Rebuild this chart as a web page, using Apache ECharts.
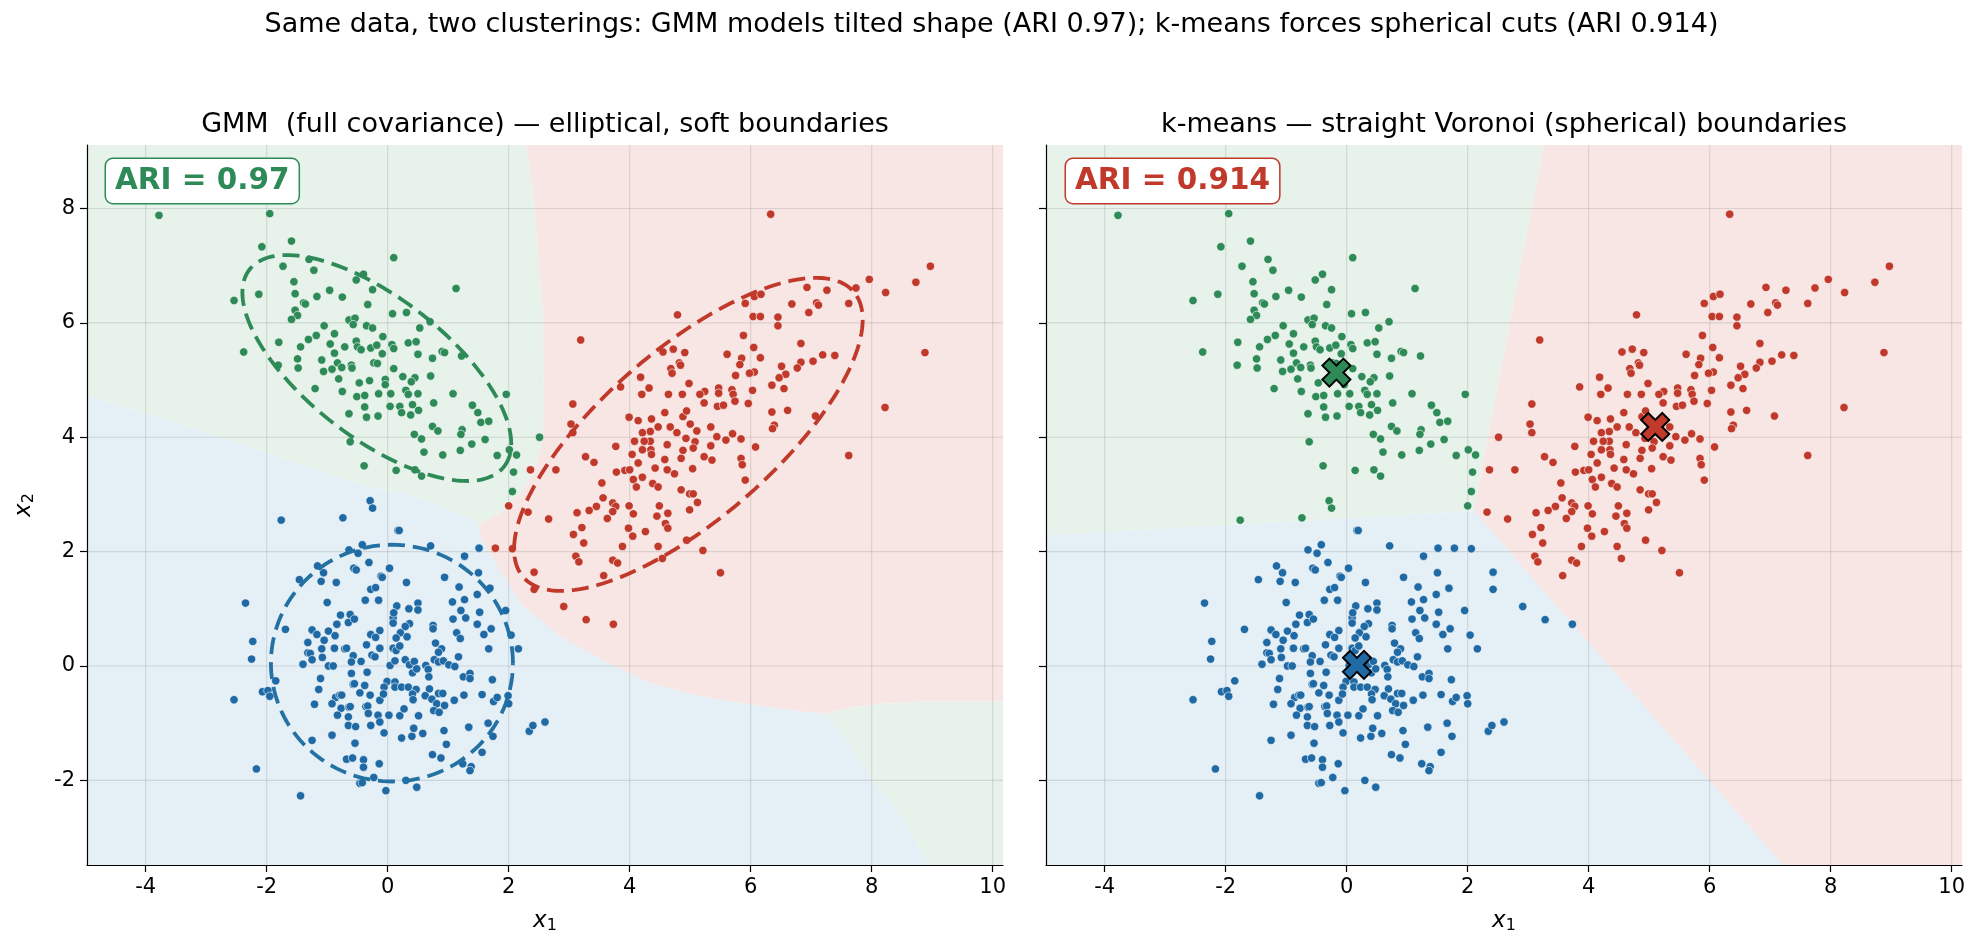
<!DOCTYPE html>
<html>
<head>
<meta charset="utf-8">
<title>GMM vs k-means</title>
<script src="https://cdn.jsdelivr.net/npm/echarts@6/dist/echarts.min.js"></script>
<style>
html, body { margin: 0; padding: 0; background: #fff; }
#chart { width: 1983px; height: 951px; }
</style>
</head>
<body>
<div id="chart"></div>
<script>
// axis ranges and ticks (same for both panels)
const xRange = [-4.97, 10.17];
const yRange = [-3.48, 9.11];
const xTicks = [-4, -2, 0, 2, 4, 6, 8, 10];
const yTicks = [-2, 0, 2, 4, 6, 8];

// points, grouped by the GMM label
const greenPts = [
  [-3.78,7.88],[-1.95,7.91],[-1.59,7.43],[-2.08,7.33],[-1.73,6.99],[-1.30,7.11],[-1.22,6.92],[-0.52,6.75],[-0.40,6.85],[-0.25,6.58],
  [-1.55,6.72],[-1.53,6.51],[-2.13,6.50],[-2.54,6.39],[-1.17,6.46],[-0.96,6.57],[-0.75,6.45],[-1.39,6.35],[-1.36,6.33],[-1.53,6.22],
  [-1.49,6.13],[-1.59,6.06],[-0.33,6.32],[-0.64,6.05],[-0.54,6.08],[-0.57,5.97],[-0.35,5.95],[-0.25,5.91],[-1.05,5.95],[-0.88,5.81],
  [-1.18,5.78],[-1.31,5.71],[-1.80,5.66],[-1.44,5.58],[-2.38,5.49],[-0.95,5.63],[-0.71,5.58],[-0.52,5.68],[-0.50,5.58],[-0.44,5.53],
  [-0.28,5.56],[-0.88,5.47],[-1.09,5.35],[-1.49,5.37],[-1.48,5.21],[-1.81,5.26],[-0.83,5.30],[-0.76,5.22],[-0.60,5.26],[-0.59,5.21],
  [-1.06,5.15],[-0.92,5.19],[-0.81,5.02],[-0.47,4.95],[-0.30,4.99],[-0.23,5.30],[-1.20,4.85],[-0.75,4.80],[-0.51,4.71],[-0.38,4.73],
  [0.10,7.14],[1.13,6.60],[0.08,6.16],[0.31,6.18],[0.70,6.02],[0.53,5.91],[-0.08,5.76],[-0.18,5.61],[0.07,5.62],[0.10,5.55],
  [0.34,5.65],[0.47,5.67],[-0.09,5.46],[0.50,5.45],[0.90,5.50],[0.94,5.48],[0.74,5.38],[1.22,5.42],[-0.17,5.29],[0.10,5.20],
  [0.25,5.06],[0.45,5.04],[0.39,4.97],[0.71,5.07],[-0.04,5.01],[-0.04,4.92],[0.30,4.82],[0.05,4.76],[0.34,4.75],[0.50,4.76],
  [-0.15,4.76],[1.08,4.76],[1.96,4.75],
  [-0.38,4.53],[-0.64,4.41],[-0.35,4.35],[-0.62,3.92],[-0.39,3.50],[0.04,4.54],[0.20,4.54],[0.41,4.57],[0.51,4.47],[0.38,4.39],
  [0.23,4.43],[-0.16,4.37],[0.76,4.60],[1.40,4.56],[1.49,4.43],[1.54,4.26],[1.67,4.28],[0.74,4.19],[0.83,4.11],[1.23,4.13],
  [1.21,4.05],[0.44,4.05],[0.56,3.97],[1.61,3.96],[1.39,3.88],[0.60,3.74],[0.91,3.69],[1.20,3.77],[1.81,3.68],[2.01,3.78],
  [2.13,3.69],[2.51,4.00],[0.14,3.42],[0.45,3.43],[0.56,3.32],[2.08,3.39],[2.06,3.05]
];

const redPts = [
  [3.19,5.70],[4.18,5.05],[3.85,4.88],[4.32,4.86],[4.20,4.75],
  [6.33,7.90],[7.96,6.76],[8.73,6.71],[8.23,6.53],[7.74,6.61],[7.62,6.34],[6.93,6.62],[7.26,6.57],[7.09,6.35],[7.12,6.31],
  [6.96,6.18],[6.68,6.33],[5.91,6.34],[6.06,6.46],[6.17,6.50],[6.04,6.11],[6.16,6.11],[6.45,6.10],[6.45,5.95],[4.79,6.14],
  [5.88,5.78],[6.05,5.57],[6.83,5.64],[4.55,5.49],[4.72,5.54],[4.91,5.48],[5.61,5.45],[5.85,5.38],[6.16,5.39],[5.82,5.27],
  [4.82,5.30],[4.84,5.26],[4.68,5.20],[4.70,5.12],[7.19,5.44],[7.39,5.43],[7.03,5.33],[6.83,5.31],[6.77,5.21],[6.51,5.24],
  [6.58,5.10],[6.47,5.04],[6.06,5.14],[5.98,5.12],[5.75,5.08],[4.98,4.94],[6.35,4.91],[6.55,4.85],[5.24,4.80],[5.47,4.86],
  [5.47,4.77],[5.69,4.83],[6.03,4.82],[4.64,4.75],[4.87,4.75],[5.16,4.75],[5.71,4.75],[8.88,5.48],[8.97,6.99],
  [5.23,4.60],[5.45,4.54],[5.55,4.56],[5.74,4.63],[5.96,4.59],[6.35,4.44],[6.61,4.47],[6.39,4.21],[6.36,4.15],[7.07,4.37],
  [8.22,4.52],[7.62,3.68],[6.08,3.83],[5.84,3.97],[5.84,3.63],[5.86,3.52],[5.91,3.25],[5.59,3.95],[5.44,4.01],[5.70,4.06],
  [5.34,4.18],[5.34,3.85],[5.23,3.66],[5.36,3.60],[5.11,4.11],[5.00,4.23],[4.88,4.36],[4.94,4.46],[4.58,4.43],[4.36,4.32],
  [4.47,4.18],[4.67,4.18],[4.78,4.08],[4.93,3.98],[5.08,3.92],[5.05,3.81],[4.34,4.10],[4.34,3.93],[4.62,3.87],[4.35,3.78],
  [4.36,3.70],[4.88,3.77],[4.85,3.63],[4.58,3.61],[4.42,3.46],[4.62,3.43],[4.74,3.36],[5.04,3.45],[4.38,3.19],[4.47,3.13],
  [4.85,3.08],[4.99,3.01],[5.05,3.01],[5.12,2.86],[4.99,2.73],[4.49,2.80],[4.63,2.67],[4.45,2.62],[4.59,2.49],[4.63,2.41],
  [4.47,2.09],[4.94,2.20],[4.54,1.88],[5.21,2.02],[5.50,1.63],
  [3.06,4.58],[3.03,4.23],[3.06,4.08],[3.99,4.35],[4.14,4.29],[4.21,4.08],[4.08,3.93],[4.24,3.93],[4.21,3.78],[4.04,3.70],
  [4.14,3.55],[3.77,3.84],[3.27,3.66],[3.41,3.56],[2.36,3.43],[2.78,3.43],[3.78,3.39],[3.92,3.42],[4.00,3.43],[4.21,3.30],
  [4.06,3.26],[4.11,3.13],[3.54,3.20],[3.56,2.94],[3.45,2.79],[3.33,2.72],[3.13,2.68],[3.72,2.85],[3.77,2.79],[3.72,2.70],
  [3.63,2.58],[3.99,2.80],[4.06,2.66],[2.00,2.80],[2.32,2.69],[2.66,2.57],[3.21,2.42],[3.07,2.30],[3.24,2.15],[3.98,2.41],
  [4.05,2.27],[4.26,2.35],[3.88,2.09],[1.78,2.06],[2.06,2.05],[3.11,1.92],[3.16,1.82],[3.72,1.85],[3.80,1.80],[2.42,1.64],
  [3.57,1.58],[2.42,1.34],[2.91,1.04],[3.28,0.81],[3.73,0.73]
];

const bluePts = [
  [-0.29,2.89],[-0.25,2.76],[-1.76,2.55],[-0.74,2.59],[-0.42,2.12],[-0.64,2.03],[-0.49,1.97],[-0.31,1.81],[-1.16,1.75],[-1.06,1.63],
  [-1.10,1.48],[-0.85,1.46],[-0.56,1.71],[-0.52,1.68],[-1.46,1.51],[-0.28,1.34],[-0.37,1.15],[-1.00,1.11],[-2.35,1.10],
  [0.17,2.37],[0.19,2.37],[0.71,2.10],[1.51,2.06],[1.27,1.92],[0.03,1.71],[-0.11,1.57],[-0.09,1.55],[0.31,1.46],[0.94,1.55],
  [1.18,1.38],[1.50,1.63],[1.69,1.36],[1.48,1.25],[1.27,1.16],[1.07,1.12],[0.50,1.10],[0.15,1.05],[-0.20,1.37],[-0.15,1.15],
  [-1.69,0.64],[-2.23,0.43],[-2.25,0.12],[-2.54,-0.59],[-2.07,-0.45],[-1.98,-0.43],[-1.95,-0.53],[-1.85,-0.26],[-2.17,-1.80],[-1.44,-2.27],
  [-1.25,-1.30],[-0.92,-1.21],[-0.54,-1.35],[-0.68,-1.63],[-0.58,-1.61],[-0.40,-1.64],[-0.40,-1.77],[-0.46,-2.05],[-0.42,-2.04],[-1.25,0.63],
  [-1.17,0.55],[-0.98,0.61],[-1.05,0.45],[-0.87,0.53],[-0.84,0.73],[-0.78,0.89],[-0.62,0.90],[-0.65,0.76],[-0.55,0.82],[-1.32,0.41],
  [-1.09,0.30],[-0.88,0.31],[-0.71,0.30],[-0.68,0.31],[-0.35,0.37],[-0.28,0.55],[-1.32,0.23],[-1.28,0.22],[-1.25,0.11],[-1.08,0.15],
  [-1.40,0.03],[-0.57,0.18],[-0.60,0.07],[-0.44,0.08],[-0.98,0.00],[-0.90,0.00],[-0.26,0.19],[-0.60,-0.13],[-0.34,-0.11],[-1.11,-0.22],
  [-1.14,-0.41],[-0.57,-0.32],[-0.55,-0.31],[-0.38,-0.34],[-0.46,-0.47],[-0.29,-0.51],[-0.86,-0.55],[-0.79,-0.51],[-0.76,-0.51],[-1.21,-0.67],
  [-0.92,-0.66],[-0.77,-0.74],[-0.64,-0.72],[-0.62,-0.71],[-0.36,-0.71],[-0.33,-0.70],[-0.83,-0.86],[-0.65,-0.89],[-0.32,-0.83],[-0.65,-1.04],
  [-0.53,-1.06],[-0.28,-1.04],
  [1.95,0.97],[2.04,0.54],[2.16,0.30],[1.52,0.94],[1.21,0.97],[1.29,0.84],[1.08,0.82],[1.48,0.73],[1.71,0.65],[1.59,0.55],
  [1.14,0.58],[1.20,0.48],[1.67,0.30],[0.75,0.71],[0.75,0.65],[0.35,1.00],[0.50,0.98],[0.36,0.74],[0.29,0.69],[0.21,0.58],
  [0.32,0.51],[0.14,0.49],[0.09,0.84],[0.10,0.93],[0.09,0.75],[-0.13,0.62],[-0.20,0.50],[-0.13,0.31],[0.09,0.31],[0.14,0.27],
  [0.20,0.35],[0.79,0.40],[0.89,0.30],[0.84,0.24],[1.17,0.16],[0.77,0.11],[0.84,0.07],[0.92,0.09],[1.01,0.02],[1.11,-0.01],
  [0.29,0.11],[0.36,0.02],[0.44,0.08],[0.41,-0.12],[0.48,-0.05],[0.63,0.01],[0.67,-0.06],[0.04,0.01],[0.12,0.09],[-0.21,0.16],
  [0.68,-0.19],[1.25,-0.19],[1.36,-0.13],[1.36,-0.22],[1.73,-0.24],[-0.01,-0.27],[0.12,-0.28],[-0.06,-0.37],[0.12,-0.37],[0.23,-0.37],
  [0.34,-0.37],[0.47,-0.41],[0.69,-0.40],[0.41,-0.49],[0.42,-0.59],[0.62,-0.52],[0.73,-0.58],[0.84,-0.48],[0.91,-0.48],[0.81,-0.66],
  [0.94,-0.69],[1.26,-0.51],[1.10,-0.60],[1.56,-0.50],[1.75,-0.62],[1.81,-0.55],[1.99,-0.52],[2.00,-0.66],[2.34,-1.14],[2.40,-1.04],
  [2.60,-0.98],[-0.13,-0.60],[-0.07,-0.49],[-0.16,-0.86],[-0.13,-0.98],[0.02,-0.86],[0.20,-0.87],[0.27,-0.75],[0.51,-0.87],[0.76,-0.78],
  [0.85,-0.81],[-0.06,-1.17],[0.23,-1.26],[0.40,-1.23],[0.43,-1.09],[0.58,-1.18],[0.93,-1.13],[1.34,-1.07],[1.66,-1.00],[1.74,-1.23],
  [0.97,-1.37],[0.74,-1.55],[0.88,-1.61],[1.56,-1.51],[1.24,-1.71],[1.38,-1.76],[1.36,-1.83],[-0.14,-1.71],[0.48,-2.12],[-0.03,-2.18],
  [-0.23,-1.95],[0.30,-2.00]
];

// GMM 2-sigma ellipses: [cx, cy, semi-major, semi-minor, angle deg]
const ellGreen = [-0.18, 5.21, 2.72, 1.2, -40];
const ellRed = [4.97, 4.05, 3.7, 1.45, 43];
const ellBlue = [0.07, 0.05, 2.0, 2.07, 0];

// k-means centroids
const cenGreen = [-0.17, 5.13];
const cenRed = [5.10, 4.18];
const cenBlue = [0.17, 0.02];

// GMM decision boundaries
const bGreenRed = [[2.29,9.11],[2.41,8.25],[2.46,7.55],[2.52,6.73],[2.57,6.18],[2.58,4.66],[2.57,4.08],[2.52,3.79],[2.43,3.43],[2.21,3.03],[1.94,2.73],[1.66,2.56],[1.50,2.47]];
const bGreenBlue = [[-4.97,4.73],[-2.74,4.0],[-2.0,3.73],[-0.9,3.32],[-0.21,3.11],[0.34,3.0],[0.89,2.79],[1.44,2.53],[1.50,2.47]];
const bRedBlue = [[1.50,2.47],[1.55,2.21],[1.72,1.92],[1.88,1.63],[2.10,1.28],[2.21,1.07],[2.88,0.49],[3.65,0.05],[4.34,-0.30],[5.16,-0.53],[5.99,-0.68],[6.81,-0.79],[7.20,-0.84]];
const bRedGreen2 = [[7.20,-0.84],[7.64,-0.73],[8.19,-0.66],[8.74,-0.62],[10.17,-0.62]];
const bBlueGreen2 = [[7.20,-0.84],[7.42,-1.08],[7.75,-1.55],[8.03,-2.02],[8.39,-2.48],[8.96,-3.48]];

// k-means Voronoi corners
const kmJoint = [2.1, 2.71];
const kmTop = [3.26, 9.11];
const kmLeft = [-4.97, 2.28];
const kmBottom = [7.21, -3.48];

const C = { green: '#2e8b57', red: '#c0392b', blue: '#1f6aa5' };
const BG = { green: '#e6f2ea', red: '#f8e6e4', blue: '#e4eff6' };
const FONT = '"DejaVu Sans", sans-serif';

const rev = a => a.slice().reverse();
const X0 = xRange[0], X1 = xRange[1], Y0 = yRange[0], Y1 = yRange[1];

const gmmRegions = [
  { color: BG.green, pts: [[X0, Y1]].concat(bGreenRed, rev(bGreenBlue)) },
  { color: BG.red, pts: [[X1, Y1], [X1, -0.62]].concat(rev(bRedGreen2), rev(bRedBlue), rev(bGreenRed)) },
  { color: BG.blue, pts: bGreenBlue.concat(bRedBlue, bBlueGreen2, [[X0, Y0]]) },
  { color: BG.green, pts: bRedGreen2.concat([[X1, Y0]], rev(bBlueGreen2)) }
];
const kmRegions = [
  { color: BG.green, pts: [[X0, Y1], kmTop, kmJoint, kmLeft] },
  { color: BG.red, pts: [kmTop, [X1, Y1], [X1, Y0], kmBottom, kmJoint] },
  { color: BG.blue, pts: [kmLeft, kmJoint, kmBottom, [X0, Y0]] }
];

// k-means labels: nearest centroid
const cents = { green: cenGreen, red: cenRed, blue: cenBlue };
const km = { green: [], red: [], blue: [] };
greenPts.concat(redPts, bluePts).forEach(p => {
  let best = null, bd = Infinity;
  for (const k in cents) {
    const d = (p[0] - cents[k][0]) ** 2 + (p[1] - cents[k][1]) ** 2;
    if (d < bd) { bd = d; best = k; }
  }
  km[best].push(p);
});

function regionSeries(regions, gi) {
  return {
    type: 'custom', xAxisIndex: gi, yAxisIndex: gi, silent: true, z: 0,
    data: regions.map((r, i) => [i, 0]),
    renderItem: (params, api) => {
      const r = regions[params.dataIndex];
      return { type: 'polygon', shape: { points: r.pts.map(p => api.coord(p)) }, style: { fill: r.color } };
    }
  };
}

function gridSeries(gi) {
  const lines = xTicks.map(v => [[v, Y0], [v, Y1]]).concat(yTicks.map(v => [[X0, v], [X1, v]]));
  return {
    type: 'custom', xAxisIndex: gi, yAxisIndex: gi, silent: true, z: 1,
    data: lines.map((l, i) => [i, 0]),
    renderItem: (params, api) => {
      const l = lines[params.dataIndex];
      const a = api.coord(l[0]), b = api.coord(l[1]);
      return { type: 'line', shape: { x1: a[0], y1: a[1], x2: b[0], y2: b[1] }, style: { stroke: 'rgba(110,110,110,0.2)', lineWidth: 1.1 } };
    }
  };
}

function ellipseSeries(ells) {
  return {
    type: 'custom', xAxisIndex: 0, yAxisIndex: 0, silent: true, z: 4,
    data: ells.map((e, i) => [i, 0]),
    renderItem: (params, api) => {
      const [cx, cy, a, b, ang] = ells[params.dataIndex].p;
      const th = ang * Math.PI / 180;
      const pts = [];
      for (let k = 0; k <= 160; k++) {
        const t = k / 160 * 2 * Math.PI;
        pts.push(api.coord([
          cx + a * Math.cos(t) * Math.cos(th) - b * Math.sin(t) * Math.sin(th),
          cy + a * Math.cos(t) * Math.sin(th) + b * Math.sin(t) * Math.cos(th)
        ]));
      }
      return { type: 'polyline', shape: { points: pts }, style: { stroke: ells[params.dataIndex].color, lineWidth: 3.8, lineDash: [17, 8], fill: null } };
    }
  };
}

function scatter(data, color, gi) {
  return {
    type: 'scatter', xAxisIndex: gi, yAxisIndex: gi, data, silent: true, z: 3,
    symbolSize: 8.4,
    itemStyle: { color, borderColor: '#fff', borderWidth: 0.6, opacity: 1 }
  };
}

const xMark = 'path://M1,0L2,1L3,0L4,1L3,2L4,3L3,4L2,3L1,4L0,3L1,2L0,1Z';
function centroid(p, color) {
  return {
    type: 'scatter', xAxisIndex: 1, yAxisIndex: 1, data: [p], silent: true, z: 5,
    symbol: xMark, symbolSize: 28,
    itemStyle: { color, borderColor: '#000', borderWidth: 2, opacity: 1 }
  };
}

function xAxis(gi) {
  return {
    type: 'value', gridIndex: gi, min: X0, max: X1,
    name: '{v|x}{s|1}', nameLocation: 'middle', nameGap: 44,
    nameTextStyle: { rich: { v: { fontFamily: FONT, fontStyle: 'italic', fontSize: 23, color: '#000' }, s: { fontFamily: FONT, fontSize: 16, color: '#000', padding: [9, 0, 0, 0] } } },
    axisLine: { show: true, onZero: false, lineStyle: { color: '#000', width: 1.2 } },
    axisTick: { show: true, length: 7, customValues: xTicks, lineStyle: { color: '#000', width: 1.2 } },
    axisLabel: { customValues: xTicks, fontFamily: FONT, fontSize: 21, color: '#000', margin: 12 },
    splitLine: { show: false }
  };
}
function yAxis(gi) {
  return {
    type: 'value', gridIndex: gi, min: Y0, max: Y1,
    name: gi === 0 ? '{v|x}{s|2}' : '', nameLocation: 'middle', nameGap: 50,
    nameTextStyle: { rich: { v: { fontFamily: FONT, fontStyle: 'italic', fontSize: 23, color: '#000' }, s: { fontFamily: FONT, fontSize: 16, color: '#000', padding: [9, 0, 0, 0] } } },
    axisLine: { show: true, onZero: false, lineStyle: { color: '#000', width: 1.2 } },
    axisTick: { show: true, length: 7, customValues: yTicks, lineStyle: { color: '#000', width: 1.2 } },
    axisLabel: { show: gi === 0, customValues: yTicks, fontFamily: FONT, fontSize: 21, color: '#000', margin: 12 },
    splitLine: { show: false }
  };
}

const chart = echarts.init(document.getElementById('chart'), null, { renderer: 'canvas' });
chart.setOption({
  animation: false,
  backgroundColor: '#fff',
  grid: [
    { left: 87, top: 145, width: 916, height: 720 },
    { left: 1046, top: 145, width: 916, height: 720 }
  ],
  xAxis: [xAxis(0), xAxis(1)],
  yAxis: [yAxis(0), yAxis(1)],
  graphic: [
    { type: 'text', x: 991.5, y: 25, style: { text: 'Same data, two clusterings: GMM models tilted shape (ARI 0.97); k-means forces spherical cuts (ARI 0.914)', font: '27px ' + FONT, fill: '#000', align: 'center', verticalAlign: 'middle' } },
    { type: 'text', x: 545, y: 125, style: { text: 'GMM  (full covariance) — elliptical, soft boundaries', font: '27px ' + FONT, fill: '#000', align: 'center', verticalAlign: 'middle' } },
    { type: 'text', x: 1504, y: 125, style: { text: 'k-means — straight Voronoi (spherical) boundaries', font: '27px ' + FONT, fill: '#000', align: 'center', verticalAlign: 'middle' } },
    { type: 'text', x: 106, y: 159, z: 10, style: { text: 'ARI = 0.97', font: 'bold 29.5px ' + FONT, fill: C.green, backgroundColor: '#fff', borderColor: C.green, borderWidth: 1.5, borderRadius: 7, padding: [7, 9, 7, 9], align: 'left', verticalAlign: 'top' } },
    { type: 'text', x: 1066, y: 159, z: 10, style: { text: 'ARI = 0.914', font: 'bold 29.5px ' + FONT, fill: C.red, backgroundColor: '#fff', borderColor: C.red, borderWidth: 1.5, borderRadius: 7, padding: [7, 9, 7, 9], align: 'left', verticalAlign: 'top' } }
  ],
  series: [
    regionSeries(gmmRegions, 0),
    regionSeries(kmRegions, 1),
    gridSeries(0),
    gridSeries(1),
    scatter(greenPts, C.green, 0),
    scatter(redPts, C.red, 0),
    scatter(bluePts, C.blue, 0),
    ellipseSeries([
      { p: ellGreen, color: C.green },
      { p: ellRed, color: C.red },
      { p: ellBlue, color: '#2471a3' }
    ]),
    scatter(km.green, C.green, 1),
    scatter(km.red, C.red, 1),
    scatter(km.blue, C.blue, 1),
    centroid(cenGreen, C.green),
    centroid(cenRed, C.red),
    centroid(cenBlue, C.blue)
  ]
});
</script>
</body>
</html>
